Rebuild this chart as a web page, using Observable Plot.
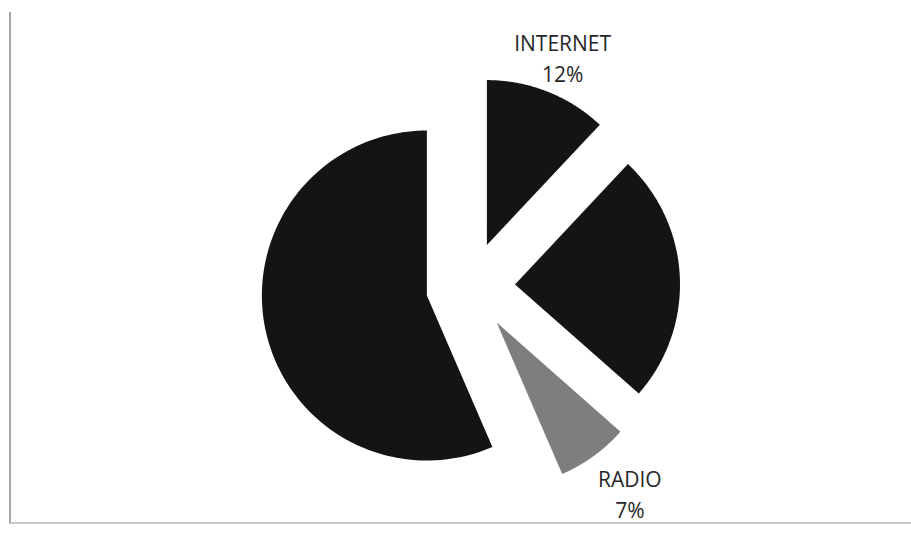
<!DOCTYPE html>
<html>
<head>
<meta charset="utf-8">
<script src="https://cdn.jsdelivr.net/npm/d3@7"></script>
<script src="https://cdn.jsdelivr.net/npm/@observablehq/plot@0.6"></script>
<style>
  html, body { margin: 0; padding: 0; background: #fff; }
  #wrap { position: relative; width: 911px; height: 554px; overflow: hidden; }
  #frame { position: absolute; left: 9px; top: 12px; width: 902px; height: 512px;
           border-left: 2px solid #a8a8a8; border-bottom: 2px solid #c8c8c8; box-sizing: border-box; pointer-events: none; }
</style>
</head>
<body>
<div id="wrap"><div id="frame"></div></div>
<script>
// Data (clockwise from 12 o'clock)
const categories = ["INTERNET", "TELEVISION", "RADIO", "NEWSPAPER"];
const shares = [12, 24.5, 7, 56.5];
const shownLabels = ["INTERNET", "RADIO"];
const labelPercents = [12, 7];

// Styling
const sliceColors = ["#141414", "#141414", "#7e7e7e", "#141414"];
const W = 911, H = 554;
const CX = 470, CY = 286, R = 165;   // pixel layout of the pie
const EXPLODE = 0.27;                 // explosion as fraction of radius

const table = categories.map((name, i) => ({name, share: shares[i]}));
const arcs = d3.pie().sort(null).value(d => d.share)(table);

const points = [];
for (const a of arcs) {
  const mid = (a.startAngle + a.endAngle) / 2;
  const ox = EXPLODE * Math.sin(mid), oy = EXPLODE * Math.cos(mid);
  points.push({name: a.data.name, x: ox, y: oy});
  const n = 120;
  for (let k = 0; k <= n; k++) {
    const t = a.startAngle + (a.endAngle - a.startAngle) * k / n;
    points.push({name: a.data.name, x: ox + Math.sin(t), y: oy + Math.cos(t)});
  }
}

const labelData = shownLabels.map((name, i) => {
  const a = arcs.find(d => d.data.name === name);
  const mid = (a.startAngle + a.endAngle) / 2;
  const k = name === "INTERNET" ? 1.5 : 1.55;
  return {name, text: `${name}\n${labelPercents[i]}%`, x: k * Math.sin(mid), y: k * Math.cos(mid)};
});

const textStyle = {
  x: "x", y: "y", text: "text", fill: "#262626", fontSize: 21, fontWeight: 500,
  fontFamily: "'Open Sans', sans-serif", lineHeight: 1.5, lineAnchor: "middle"
};

const chart = Plot.plot({
  width: W,
  height: H,
  margin: 0,
  x: {domain: [-CX / R, (W - CX) / R], range: [0, W], axis: null},
  y: {domain: [-(H - CY) / R, CY / R], range: [H, 0], axis: null},
  color: {domain: categories, range: sliceColors},
  style: {background: "transparent"},
  marks: [
    Plot.line(points, {x: "x", y: "y", z: "name", fill: "name", stroke: null, curve: "linear-closed"}),
    Plot.text(labelData.filter(d => d.name === "INTERNET"), {...textStyle, dx: 1, dy: 0}),
    Plot.text(labelData.filter(d => d.name === "RADIO"), {...textStyle, dx: 9, dy: -1})
  ]
});
chart.style.position = "absolute";
chart.style.left = "0px";
chart.style.top = "0px";
document.getElementById("wrap").prepend(chart);
</script>
</body>
</html>
